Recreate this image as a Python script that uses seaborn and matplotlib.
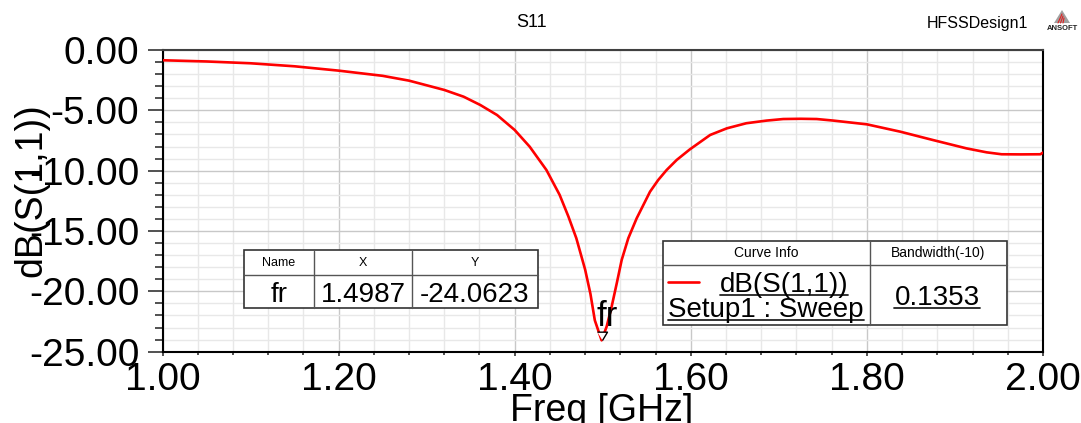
import numpy as np
import pandas as pd
import matplotlib.pyplot as plt
import seaborn as sns
from matplotlib.patches import Rectangle, Polygon
from matplotlib.lines import Line2D
from matplotlib.ticker import MultipleLocator, FormatStrFormatter

# data
freq = [1.00, 1.05, 1.10, 1.15, 1.20, 1.25, 1.28, 1.32, 1.342, 1.361,
        1.38, 1.40, 1.417, 1.436, 1.451, 1.461, 1.470, 1.480, 1.486, 1.491,
        1.4987, 1.5045, 1.510, 1.516, 1.5215, 1.529, 1.5385, 1.5537, 1.563, 1.5726,
        1.584, 1.599, 1.622, 1.641, 1.663, 1.686, 1.705, 1.725, 1.743, 1.762,
        1.800, 1.838, 1.875, 1.913, 1.936, 1.953, 1.975, 1.997, 2.000]
s11_db = [-0.85, -0.95, -1.10, -1.35, -1.71, -2.14, -2.54, -3.31, -3.87, -4.56,
          -5.39, -6.63, -8.01, -9.94, -12.00, -13.80, -15.60, -18.20, -20.20, -22.40,
          -24.06, -22.90, -21.30, -19.30, -17.40, -15.60, -13.95, -11.74, -10.77, -9.94,
          -9.11, -8.23, -7.04, -6.49, -6.07, -5.85, -5.72, -5.70, -5.72, -5.85,
          -6.16, -6.77, -7.46, -8.15, -8.48, -8.64, -8.65, -8.64, -8.50]

marker_name = "fr"
marker_x = 1.4987
marker_y = -24.0623
bandwidth = 0.1353

df = pd.DataFrame({"Freq": freq, "dB": s11_db})

sns.set_theme(style="white")
plt.rcParams['font.family'] = ['Liberation Sans', 'DejaVu Sans']
plt.rcParams['text.color'] = 'black'

W, H = 1081, 423
fig = plt.figure(figsize=(W / 100, H / 100), dpi=100)
ax = fig.add_axes([162.5 / W, 1 - 351.7 / H, 880.5 / W, 301.7 / H])

sns.lineplot(data=df, x="Freq", y="dB", color="red", lw=1.9, ax=ax, zorder=3)
ax.set_xlim(1.0, 2.0)
ax.set_ylim(-25, 0)
ax.set_xlabel("")
ax.set_ylabel("")

ax.xaxis.set_major_locator(MultipleLocator(0.2))
ax.xaxis.set_minor_locator(MultipleLocator(0.04))
ax.yaxis.set_major_locator(MultipleLocator(5))
ax.yaxis.set_minor_locator(MultipleLocator(1))
ax.xaxis.set_major_formatter(FormatStrFormatter('%.2f'))
ax.yaxis.set_major_formatter(FormatStrFormatter('%.2f'))

ax.tick_params(axis='y', which='major', left=True, length=10.8, width=1.2,
               color='#333333', pad=6, labelsize=28, labelcolor='black')
ax.tick_params(axis='y', which='minor', left=True, length=5.5, width=1.2, color='#333333')
ax.tick_params(axis='x', which='major', bottom=True, length=3.2, width=1.2,
               color='#333333', pad=4, labelsize=28, labelcolor='black')
ax.tick_params(axis='x', which='minor', bottom=True, length=2, width=1.2, color='#333333')

ax.set_axisbelow(True)
ax.grid(which='major', color='#c8c8c8', lw=1)
ax.grid(which='minor', color='#e8e8e8', lw=1)
for side in ['left', 'bottom', 'right']:
    ax.spines[side].set_color('black')
    ax.spines[side].set_linewidth(1.5)
ax.spines['top'].set_color('#404040')
ax.spines['top'].set_linewidth(1.5)

# marker at the minimum, tip pointing at the point
tri = [(-0.6, 1.0), (0.6, 1.0), (0.0, 0.0)]
ax.plot([marker_x], [marker_y], marker=tri, ms=12, mfc='white', mec='black',
        mew=1, ls='none', zorder=5)
ax.annotate(marker_name, (marker_x, marker_y), xytext=(-3.4, 10.5),
            textcoords='offset points', fontsize=25, ha='left', va='baseline', zorder=6)


def fx(x):
    return x / W


def fy(y):
    return 1 - y / H


def box(x0, y0, x1, y1):
    fig.add_artist(Rectangle((fx(x0), fy(y1)), (x1 - x0) / W, (y1 - y0) / H,
                             transform=fig.transFigure, fc='white', ec='#333333',
                             lw=1.2, zorder=10))


def line(x0, y0, x1, y1, color='#555555', lw=1):
    fig.add_artist(Line2D([fx(x0), fx(x1)], [fy(y0), fy(y1)], transform=fig.transFigure,
                          color=color, lw=lw, zorder=11))


def txt(x, y, s, size, ha='center', va='baseline', **kw):
    return fig.text(fx(x), fy(y), s, fontsize=size, ha=ha, va=va, zorder=12, **kw)


# marker table
box(243.5, 250.5, 537.5, 308)
line(243.5, 275, 537.5, 275)
line(314, 250.5, 314, 308)
line(412, 250.5, 412, 308)
txt(279, 263, "Name", 9, va='center')
txt(363, 263, "X", 9, va='center')
txt(474.5, 263, "Y", 9, va='center')
txt(279, 302, marker_name, 20)
txt(363, 302, f"{marker_x:.4f}", 20)
txt(474.5, 302, f"{marker_y:.4f}", 20)

# curve info box
box(663, 241, 1006.5, 325.5)
line(663, 264.5, 1006.5, 264.5)
line(870, 241, 870, 325.5)
txt(766.5, 253, "Curve Info", 10, va='center')
txt(938, 253, "Bandwidth(-10)", 10, va='center')
line(668, 282, 699, 282, color='red', lw=1.9)
under = [(txt(784, 291.5, "dB(S(1,1))", 20), 294.5),
         (txt(766, 317, "Setup1 : Sweep", 20), 320),
         (txt(937, 305, f"{bandwidth:.4f}", 20), 308)]
renderer = fig.canvas.get_renderer()
for t, uy in under:
    bb = t.get_window_extent(renderer=renderer)
    line(bb.x0, uy, bb.x1, uy, color='#222222', lw=1.3)

# titles and axis labels
txt(532, 27, "S11", 13)
txt(1028, 28, "HFSSDesign1", 11.5, ha='right')
txt(31, 190, "dB(S(1,1))", 27, va='center', rotation=90)
txt(602, 421, "Freq [GHz]", 27)

# small ANSOFT logo
fig.add_artist(Polygon([(fx(1062), fy(10)), (fx(1054), fy(23)), (fx(1070), fy(23))],
                       closed=True, transform=fig.transFigure, fc='#a0a0a0', ec='none', zorder=10))
for dx in [0, 2.5, 5]:
    line(1058 + dx, 23, 1062 + dx * 0.4, 14 + dx * 0.8, color='#e02020', lw=0.8)
txt(1062, 30.5, "ANSOFT", 5.5, fontweight='bold', color='#222222')

fig.savefig("out.png", dpi=100)
